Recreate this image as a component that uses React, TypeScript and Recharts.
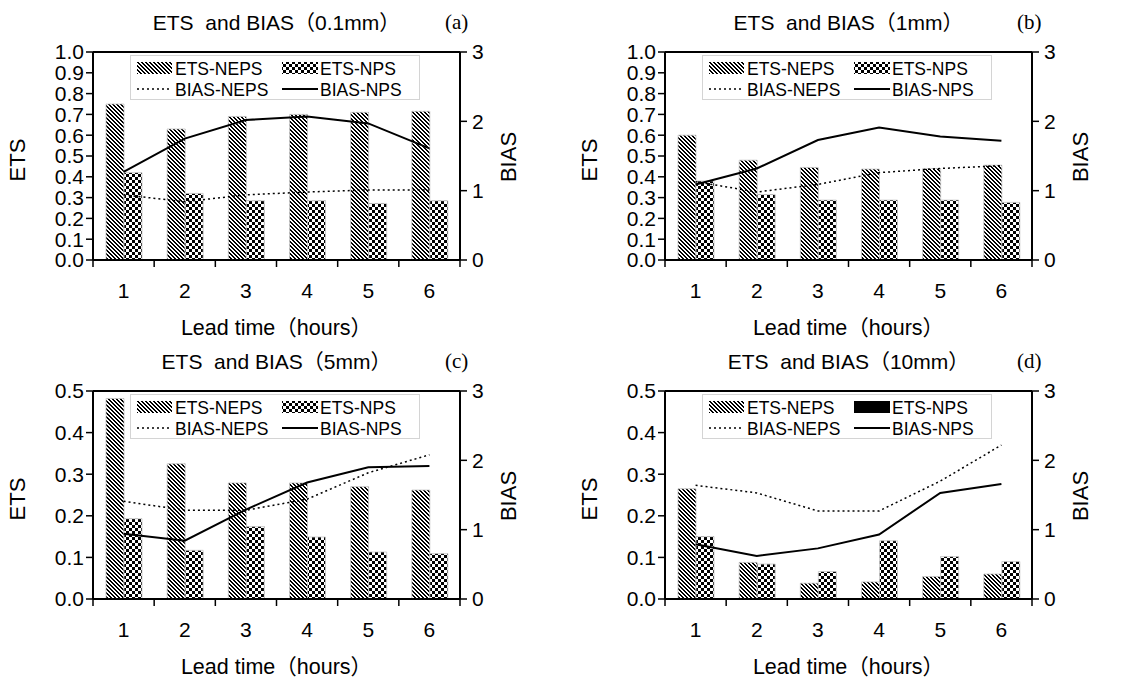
import React from 'react';
import { ComposedChart, Bar, Line, XAxis, YAxis, Legend, ReferenceLine } from 'recharts';

const FONT = '"Liberation Sans", Arial, "Noto Sans CJK SC", sans-serif';
const SERIF = '"Liberation Serif", "Times New Roman", serif';

const LEAD_TIMES = ['1', '2', '3', '4', '5', '6'];

// (a) threshold 0.1mm
const ETS_NEPS_01 = [0.75, 0.63, 0.69, 0.7, 0.71, 0.715];
const ETS_NPS_01 = [0.42, 0.32, 0.285, 0.285, 0.272, 0.285];
const BIAS_NEPS_01 = [0.94, 0.84, 0.94, 0.98, 1.01, 1.01];
const BIAS_NPS_01 = [1.27, 1.75, 2.02, 2.07, 1.97, 1.61];

// (b) threshold 1mm
const ETS_NEPS_1 = [0.6, 0.48, 0.445, 0.437, 0.44, 0.456];
const ETS_NPS_1 = [0.38, 0.315, 0.288, 0.288, 0.288, 0.277];
const BIAS_NEPS_1 = [1.13, 0.98, 1.09, 1.26, 1.32, 1.36];
const BIAS_NPS_1 = [1.09, 1.32, 1.73, 1.91, 1.78, 1.72];

// (c) threshold 5mm
const ETS_NEPS_5 = [0.482, 0.325, 0.279, 0.279, 0.27, 0.262];
const ETS_NPS_5 = [0.193, 0.117, 0.174, 0.149, 0.113, 0.109];
const BIAS_NEPS_5 = [1.41, 1.28, 1.28, 1.44, 1.82, 2.08];
const BIAS_NPS_5 = [0.94, 0.84, 1.29, 1.68, 1.9, 1.92];

// (d) threshold 10mm
const ETS_NEPS_10 = [0.265, 0.088, 0.038, 0.041, 0.054, 0.06];
const ETS_NPS_10 = [0.15, 0.084, 0.066, 0.14, 0.102, 0.09];
const BIAS_NEPS_10 = [1.64, 1.53, 1.27, 1.27, 1.7, 2.22];
const BIAS_NPS_10 = [0.79, 0.62, 0.73, 0.93, 1.53, 1.66];

const ETS_TICKS_10 = [0, 0.1, 0.2, 0.3, 0.4, 0.5, 0.6, 0.7, 0.8, 0.9, 1.0];
const ETS_TICKS_05 = [0, 0.1, 0.2, 0.3, 0.4, 0.5];
const BIAS_TICKS = [0, 1, 2, 3];

const W = 568;
const H = 340;
const PLOT_LEFT = 93;
const PLOT_TOP = 52;
const PLOT_W = 367;
const BAND = PLOT_W / LEAD_TIMES.length;

const XTick = (props: any) => {
  const { x, y, payload, index } = props;
  return (
    <g>
      <line x1={x - BAND / 2} x2={x - BAND / 2} y1={y} y2={y + 7} stroke="#000" strokeWidth={1.5} />
      {index === LEAD_TIMES.length - 1 && (
        <line x1={x + BAND / 2} x2={x + BAND / 2} y1={y} y2={y + 7} stroke="#000" strokeWidth={1.5} />
      )}
      <text x={x} y={y + 38} textAnchor="middle" fill="#000" fontSize={21} fontFamily={FONT}>
        {payload.value}
      </text>
    </g>
  );
};

interface PanelProps {
  id: string;
  title: string;
  tag: string;
  left: number;
  top: number;
  etsMax: number;
  etsTicks: number[];
  etsNeps: number[];
  etsNps: number[];
  biasNeps: number[];
  biasNps: number[];
  solidNpsKey?: boolean;
}

const Panel: React.FC<PanelProps> = (p) => {
  const data = LEAD_TIMES.map((lead, i) => ({
    lead,
    etsNeps: p.etsNeps[i],
    etsNps: p.etsNps[i],
    biasNeps: p.biasNeps[i],
    biasNps: p.biasNps[i],
  }));
  const stripe = `stripe-${p.id}`;
  const check = `check-${p.id}`;

  const renderLegend = () => (
    <svg width={290} height={45} style={{ display: 'block' }}>
      <rect x={0.5} y={0.5} width={289} height={44} fill="#fff" stroke="#d4d4d4" />
      <rect x={7} y={7} width={35} height={12} fill={`url(#${stripe})`} />
      <text x={45} y={19.5} fontSize={17.5} fontFamily={FONT} fill="#000">ETS-NEPS</text>
      <rect x={152} y={7} width={36} height={12} fill={p.solidNpsKey ? '#000' : `url(#${check})`} />
      <text x={190} y={19.5} fontSize={17.5} fontFamily={FONT} fill="#000">ETS-NPS</text>
      <line x1={7} x2={42} y1={34} y2={34} stroke="#000" strokeWidth={1.5} strokeDasharray="2 3" />
      <text x={45} y={40.5} fontSize={17.5} fontFamily={FONT} fill="#000">BIAS-NEPS</text>
      <line x1={152} x2={188} y1={34} y2={34} stroke="#000" strokeWidth={2} />
      <text x={190} y={40.5} fontSize={17.5} fontFamily={FONT} fill="#000">BIAS-NPS</text>
    </svg>
  );

  const cx = PLOT_LEFT + PLOT_W / 2;

  return (
    <div style={{ position: 'absolute', left: p.left, top: p.top, width: W, height: H }}>
      <ComposedChart
        width={W}
        height={H}
        data={data}
        margin={{ top: PLOT_TOP, right: 68, bottom: 50, left: 33 }}
        barGap={0}
      >
        <defs>
          <pattern id={stripe} patternUnits="userSpaceOnUse" width={4} height={4}>
            <rect width={4} height={4} fill="#fff" />
            <g fill="#000" shapeRendering="crispEdges">
              <rect x={0} y={0} width={2} height={1} />
              <rect x={1} y={1} width={2} height={1} />
              <rect x={2} y={2} width={2} height={1} />
              <rect x={3} y={3} width={1} height={1} />
              <rect x={0} y={3} width={1} height={1} />
            </g>
          </pattern>
          <pattern id={check} patternUnits="userSpaceOnUse" width={6} height={6}>
            <rect width={6} height={6} fill="#fff" />
            <g fill="#000" shapeRendering="crispEdges">
              <rect x={0} y={0} width={3} height={3} />
              <rect x={3} y={3} width={3} height={3} />
            </g>
          </pattern>
        </defs>
        <XAxis
          dataKey="lead"
          height={30}
          interval={0}
          tickLine={false}
          tickSize={0}
          tickMargin={0}
          axisLine={{ stroke: '#000', strokeWidth: 2 }}
          tick={<XTick />}
        />
        <YAxis
          yAxisId="left"
          width={60}
          domain={[0, p.etsMax]}
          ticks={p.etsTicks}
          interval={0}
          tickFormatter={(v: number) => v.toFixed(1)}
          tickSize={7}
          tickMargin={2}
          axisLine={{ stroke: '#000', strokeWidth: 2 }}
          tickLine={{ stroke: '#000', strokeWidth: 1.5 }}
          tick={{ fill: '#000', fontSize: 21, fontFamily: FONT }}
        />
        <YAxis
          yAxisId="right"
          orientation="right"
          width={40}
          domain={[0, 3]}
          ticks={BIAS_TICKS}
          interval={0}
          tickSize={7}
          tickMargin={5}
          axisLine={{ stroke: '#000', strokeWidth: 2 }}
          tickLine={{ stroke: '#000', strokeWidth: 1.5 }}
          tick={{ fill: '#000', fontSize: 21, fontFamily: FONT }}
        />
        <ReferenceLine yAxisId="left" y={p.etsMax} stroke="#000" strokeWidth={2} />
        <Legend
          verticalAlign="middle"
          content={renderLegend}
          wrapperStyle={{ left: 130, top: 55, width: 290, height: 45 }}
        />
        <Bar
          yAxisId="left"
          dataKey="etsNeps"
          name="ETS-NEPS"
          barSize={18}
          fill={`url(#${stripe})`}
          stroke="#c4c4c4"
          strokeWidth={0.8}
          isAnimationActive={false}
        />
        <Bar
          yAxisId="left"
          dataKey="etsNps"
          name="ETS-NPS"
          barSize={18}
          fill={`url(#${check})`}
          stroke="#c4c4c4"
          strokeWidth={0.8}
          isAnimationActive={false}
        />
        <Line
          yAxisId="right"
          type="linear"
          dataKey="biasNeps"
          name="BIAS-NEPS"
          stroke="#000"
          strokeWidth={1.5}
          strokeDasharray="2 3"
          dot={false}
          isAnimationActive={false}
        />
        <Line
          yAxisId="right"
          type="linear"
          dataKey="biasNps"
          name="BIAS-NPS"
          stroke="#000"
          strokeWidth={2}
          dot={false}
          isAnimationActive={false}
        />
      </ComposedChart>
      <svg
        width={W}
        height={H}
        style={{ position: 'absolute', left: 0, top: 0, pointerEvents: 'none' }}
      >
        <text
          x={cx}
          y={30}
          textAnchor="middle"
          fontSize={21}
          fontFamily={FONT}
          fill="#000"
          style={{ whiteSpace: 'pre' }}
        >
          {p.title}
        </text>
        <text x={445} y={29} fontSize={21} fontFamily={SERIF} fill="#000">
          {p.tag}
        </text>
        <text
          x={17}
          y={160}
          transform="rotate(-90 17 160)"
          textAnchor="middle"
          dominantBaseline="central"
          fontSize={22}
          fontFamily={FONT}
          fill="#000"
        >
          ETS
        </text>
        <text
          x={508}
          y={157}
          transform="rotate(-90 508 157)"
          textAnchor="middle"
          dominantBaseline="central"
          fontSize={22}
          fontFamily={FONT}
          fill="#000"
        >
          BIAS
        </text>
        <text x={cx} y={335} textAnchor="middle" fontSize={21.5} fontFamily={FONT} fill="#000">
          Lead time（hours）
        </text>
      </svg>
    </div>
  );
};

export default function App() {
  return (
    <div style={{ position: 'absolute', left: 0, top: 0, width: 1136, height: 679, background: '#fff' }}>
      <Panel
        id="a"
        title="ETS  and BIAS（0.1mm）"
        tag="(a)"
        left={0}
        top={0}
        etsMax={1}
        etsTicks={ETS_TICKS_10}
        etsNeps={ETS_NEPS_01}
        etsNps={ETS_NPS_01}
        biasNeps={BIAS_NEPS_01}
        biasNps={BIAS_NPS_01}
      />
      <Panel
        id="b"
        title="ETS  and BIAS（1mm）"
        tag="(b)"
        left={572}
        top={0}
        etsMax={1}
        etsTicks={ETS_TICKS_10}
        etsNeps={ETS_NEPS_1}
        etsNps={ETS_NPS_1}
        biasNeps={BIAS_NEPS_1}
        biasNps={BIAS_NPS_1}
      />
      <Panel
        id="c"
        title="ETS  and BIAS（5mm）"
        tag="(c)"
        left={0}
        top={339}
        etsMax={0.5}
        etsTicks={ETS_TICKS_05}
        etsNeps={ETS_NEPS_5}
        etsNps={ETS_NPS_5}
        biasNeps={BIAS_NEPS_5}
        biasNps={BIAS_NPS_5}
      />
      <Panel
        id="d"
        title="ETS  and BIAS（10mm）"
        tag="(d)"
        left={572}
        top={339}
        etsMax={0.5}
        etsTicks={ETS_TICKS_05}
        etsNeps={ETS_NEPS_10}
        etsNps={ETS_NPS_10}
        biasNeps={BIAS_NEPS_10}
        biasNps={BIAS_NPS_10}
        solidNpsKey
      />
    </div>
  );
}
